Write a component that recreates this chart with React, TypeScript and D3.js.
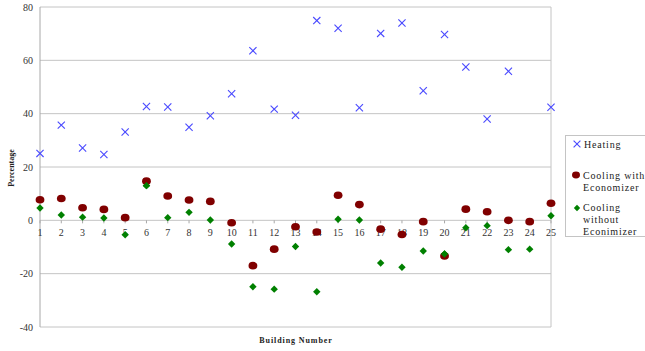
import React from "react";
import * as d3 from "d3";

const buildings = d3.range(1, 26);

const heating: (number | null)[] = [
  25.1, 35.7, 27.1, 24.7, 33.1, 42.7, 42.5, 34.9, 39.2, 47.5,
  63.6, 41.7, 39.4, 74.9, 72.0, 42.2, 70.1, 74.0, 48.6, 69.7,
  57.5, 38.0, 55.9, null, 42.4,
];

const coolingWithEconomizer = [
  7.7, 8.2, 4.7, 4.1, 1.0, 14.7, 9.1, 7.6, 7.1, -0.9,
  -17.0, -10.8, -2.4, -4.4, 9.4, 5.9, -3.3, -5.3, -0.5, -13.4,
  4.2, 3.2, 0.0, -0.5, 6.4,
];

const coolingWithoutEconomizer = [
  4.6, 2.0, 1.2, 0.9, -5.4, 13.0, 1.0, 3.0, 0.1, -8.9,
  -24.9, -25.8, -9.8, -26.8, 0.4, 0.1, -16.0, -17.6, -11.5, -12.6,
  -2.8, -2.0, -11.0, -10.8, 1.7,
];

const yTicks = [80, 60, 40, 20, 0, -20, -40];

const W = 645;
const H = 351;
const plot = { left: 40, right: 551, top: 7, bottom: 327 };
const serif = "Liberation Serif, Times New Roman, DejaVu Serif, serif";

const BLUE = "#4848ff";
const RED = "#800000";
const GREEN = "#008000";

function Cross({ x, y, r = 3.6 }: { x: number; y: number; r?: number }) {
  return (
    <g stroke={BLUE} strokeWidth={1.1}>
      <line x1={x - r} y1={y - r} x2={x + r} y2={y + r} />
      <line x1={x - r} y1={y + r} x2={x + r} y2={y - r} />
    </g>
  );
}

function Dot({ x, y }: { x: number; y: number }) {
  return <ellipse cx={x} cy={y} rx={4.4} ry={3.8} fill={RED} />;
}

function Diamond({ x, y, r = 3.7 }: { x: number; y: number; r?: number }) {
  return (
    <path
      d={`M${x},${y - r}L${x + r},${y}L${x},${y + r}L${x - r},${y}Z`}
      fill={GREEN}
    />
  );
}

export default function App() {
  const x = d3
    .scaleLinear()
    .domain([1, 25])
    .range([plot.left, plot.right]);
  const y = d3
    .scaleLinear()
    .domain([-40, 80])
    .range([plot.bottom, plot.top]);

  const y0 = y(0);

  return (
    <svg
      width={W}
      height={H}
      style={{ position: "absolute", left: 0, top: 0, background: "#fff", fontFamily: serif }}
    >
      {/* horizontal gridlines */}
      {yTicks.map((t) => (
        <line
          key={t}
          x1={plot.left}
          x2={plot.right}
          y1={y(t)}
          y2={y(t)}
          stroke="#c4c4c4"
          strokeWidth={1}
        />
      ))}
      {/* frame: value axis and right border */}
      <line x1={plot.left} x2={plot.left} y1={plot.top} y2={plot.bottom} stroke="#a8a8a8" />
      <line x1={plot.right} x2={plot.right} y1={plot.top} y2={plot.bottom} stroke="#c4c4c4" />

      {/* y tick labels */}
      {yTicks.map((t) => (
        <text
          key={t}
          x={33}
          y={y(t) + 3.5}
          textAnchor="end"
          fontSize={10}
          fill="#333"
        >
          {t}
        </text>
      ))}

      {/* category ticks on the zero line */}
      {buildings.map((b) => (
        <line
          key={b}
          x1={x(b)}
          x2={x(b)}
          y1={y0}
          y2={y0 + 3}
          stroke="#a8a8a8"
        />
      ))}
      {buildings.map((b) => (
        <text
          key={b}
          x={x(b)}
          y={y0 + 16}
          textAnchor="middle"
          fontSize={10}
          fill="#333"
        >
          {b}
        </text>
      ))}

      {/* axis titles */}
      <text
        transform={`translate(14, ${168}) rotate(-90)`}
        textAnchor="middle"
        fontSize={8}
        fontWeight="bold"
        fill="#222"
      >
        Percentage
      </text>
      <text
        x={296}
        y={343}
        textAnchor="middle"
        fontSize={8}
        fontWeight="bold"
        letterSpacing={0.9}
        fill="#222"
      >
        Building Number
      </text>

      {/* series */}
      {coolingWithoutEconomizer.map((v, i) => (
        <Diamond key={`g${i}`} x={x(buildings[i])} y={y(v)} />
      ))}
      {coolingWithEconomizer.map((v, i) => (
        <Dot key={`r${i}`} x={x(buildings[i])} y={y(v)} />
      ))}
      {heating.map((v, i) =>
        v == null ? null : <Cross key={`h${i}`} x={x(buildings[i])} y={y(v)} />
      )}
      {/* green markers are drawn over red where they overlap (building 20) */}
      {coolingWithoutEconomizer.map((v, i) =>
        Math.abs(v - coolingWithEconomizer[i]) < 2 ? (
          <Diamond key={`go${i}`} x={x(buildings[i])} y={y(v)} />
        ) : null
      )}

      {/* legend */}
      <rect x={565.5} y={135.5} width={85} height={101} fill="#fff" stroke="#c4c4c4" />
      <Cross x={577} y={144} r={3.4} />
      <text x={584} y={148} fontSize={10} letterSpacing={0.8} fill="#222">
        Heating
      </text>
      <ellipse cx={576} cy={175} rx={4} ry={3.4} fill={RED} />
      <text x={583} y={178.5} fontSize={10} letterSpacing={0.8} fill="#222">
        Cooling with
      </text>
      <text x={583} y={190.5} fontSize={10} letterSpacing={0.8} fill="#222">
        Economizer
      </text>
      <Diamond x={577} y={208} r={3.2} />
      <text x={583} y={211} fontSize={10} letterSpacing={0.8} fill="#222">
        Cooling
      </text>
      <text x={583} y={223} fontSize={10} letterSpacing={0.8} fill="#222">
        without
      </text>
      <text x={583} y={235} fontSize={10} letterSpacing={0.8} fill="#222">
        Econimizer
      </text>
    </svg>
  );
}
